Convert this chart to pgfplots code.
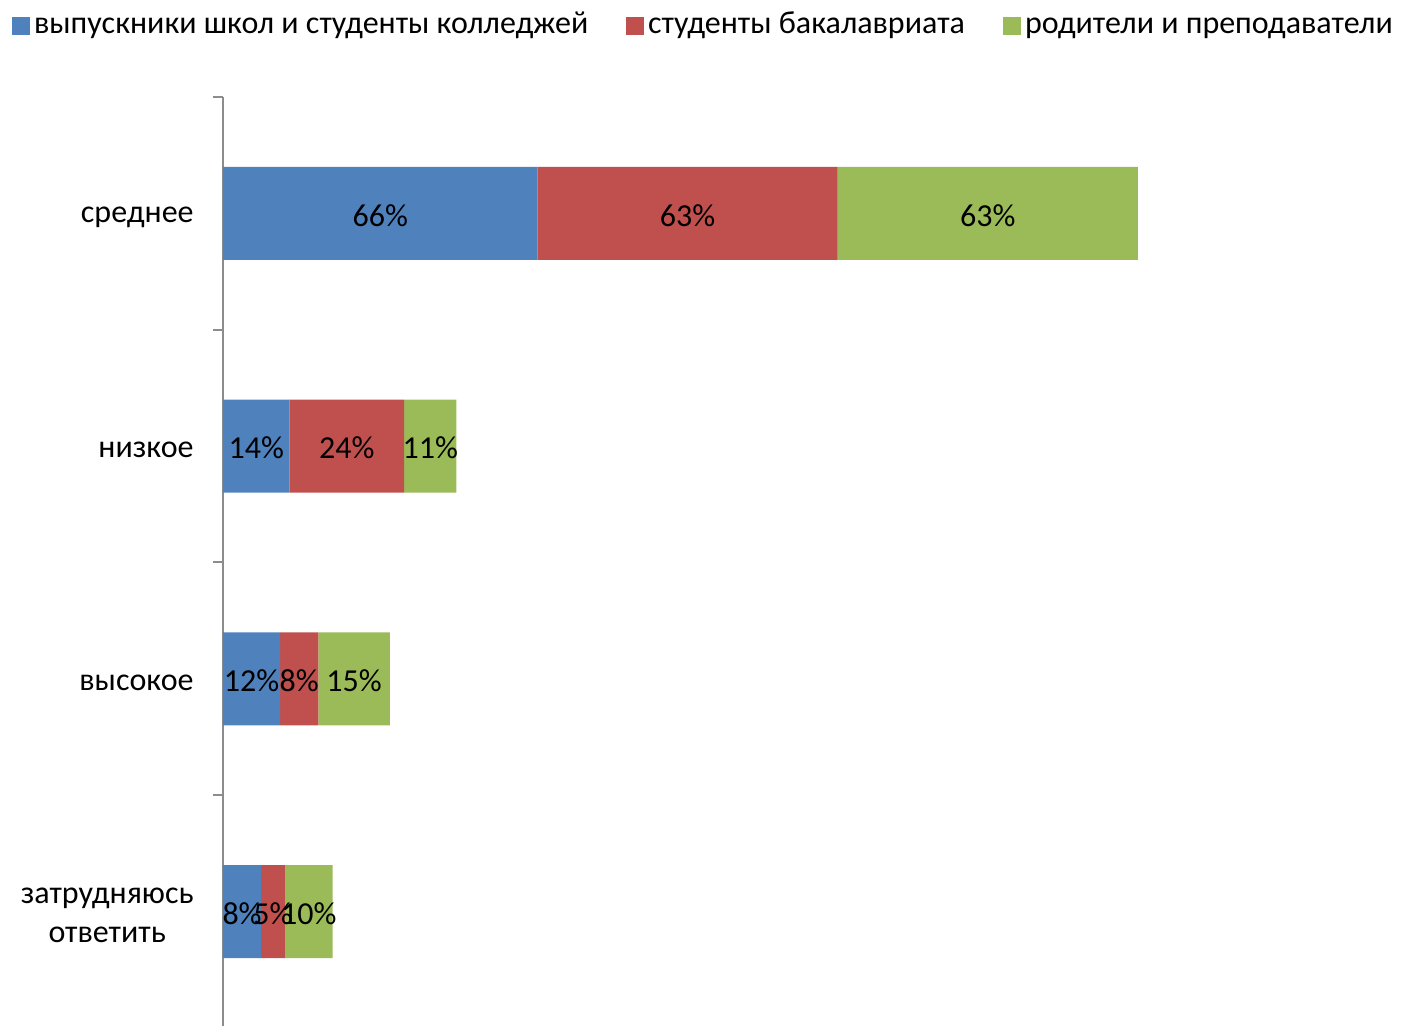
\documentclass[border=0pt]{standalone}
\usepackage{pgfplots}
\pgfplotsset{compat=1.18}
\usepackage{fontspec}
\setmainfont{Carlito}
\definecolor{sblue}{HTML}{4F81BD}
\definecolor{sred}{HTML}{C0504D}
\definecolor{sgreen}{HTML}{9BBB59}
\definecolor{axgray}{HTML}{8C8C8C}
\begin{document}
\fontsize{16}{19.5}\selectfont
\begin{tikzpicture}
\path[use as bounding box] (0,0) rectangle (703.5pt,513pt);
\begin{axis}[
    at={(111.5pt,0pt)}, anchor=south west,
    scale only axis, width=588.5pt, height=464.5pt,
    xbar stacked, bar width=46.5pt,
    xmin=0, xmax=247,
    ymin=-0.5, ymax=3.492, y dir=reverse,
    hide x axis,
    axis y line*=left,
    y axis line style={draw=axgray, line width=1pt, -},
    ytick={0,1,2,3},
    yticklabels={среднее, низкое, высокое, затрудняюсь\\ответить},
    major tick length=0pt,
    yticklabel style={align=center, inner sep=0pt, xshift=-14.5pt, yshift=-2pt,
        font=\fontsize{16}{19.5}\selectfont},
    extra y ticks={-0.5,0.5,1.5,2.5},
    extra y tick labels={},
    extra y tick style={major tick length=5pt, tick align=outside,
        tick style={draw=axgray, line width=1pt}},
    /pgf/number format/assume math mode=true,
    visualization depends on={rawx \as \rawx},
    nodes near coords={\pgfmathprintnumber[fixed,precision=0]{\rawx}\%},
    every node near coord/.append style={anchor=center, text=black, inner sep=0pt,
        yshift=-1pt, font=\fontsize{16}{19.5}\selectfont},
    legend columns=-1,
    legend style={at={(0.409,1.0765)}, anchor=center, draw=none, fill=none,
        font=\fontsize{16}{19.5}\selectfont,
        nodes={inner sep=2pt, text height=0.75em, text depth=0.25em},
        /tikz/every even column/.append style={column sep=17pt}},
    legend image code/.code={\fill[#1] (0pt,-4.5pt) rectangle (9pt,4.5pt);},
]
\addplot[fill=sblue, draw=none] coordinates {(66,0) (14,1) (12,2) (8,3)};
\addplot[fill=sred, draw=none] coordinates {(63,0) (24,1) (8,2) (5,3)};
\addplot[fill=sgreen, draw=none] coordinates {(63,0) (11,1) (15,2) (10,3)};
\legend{выпускники школ и студенты колледжей, студенты бакалавриата, родители и преподаватели}
\end{axis}
\end{tikzpicture}
\end{document}
